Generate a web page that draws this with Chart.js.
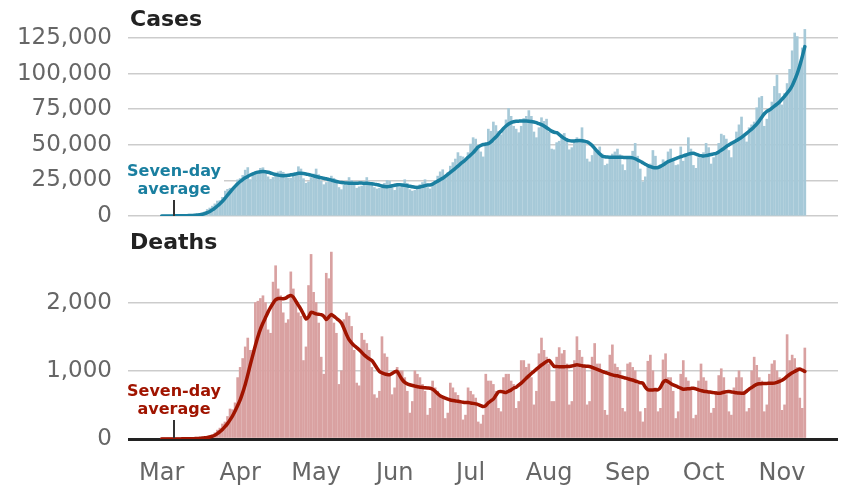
<!DOCTYPE html>
<html>
<head>
<meta charset="utf-8">
<script src="https://cdn.jsdelivr.net/npm/chart.js@4.4.0/dist/chart.umd.min.js"></script>
<style>
  body { margin: 0; background: #fff; width: 858px; height: 488px; overflow: hidden; position: relative; font-family: 'DejaVu Sans', sans-serif; }
  canvas { position: absolute; left: 0; }
  #casesChart { top: 0; }
  #deathsChart { top: 230px; }
  .title { position: absolute; left: 130px; font-weight: bold; font-size: 22px; line-height: 1; color: #222; }
  .avg-label { position: absolute; left: 124px; width: 100px; text-align: center; font-weight: bold; font-size: 16px; line-height: 17.6px; background: #fff; }
  .pointer { position: absolute; left: 172.5px; width: 2px; background: #333; }
</style>
</head>
<body>
<canvas id="casesChart" width="858" height="230"></canvas>
<canvas id="deathsChart" width="858" height="258"></canvas>
<div class="title" style="top:8px">Cases</div>
<div class="title" style="top:231px">Deaths</div>
<div class="avg-label" style="top:162px;color:#1a7fa0">Seven-day<br>average</div>
<div class="pointer" style="top:200px;height:16px"></div>
<div class="avg-label" style="top:382px;color:#a01400;background:transparent">Seven-day<br>average</div>
<div class="pointer" style="top:420px;height:18px"></div>
<script>
// Daily values from 1 March 2020 (one row = one week, Sunday first)
const monthLabels = ['Mar', 'Apr', 'May', 'Jun', 'Jul', 'Aug', 'Sep', 'Oct', 'Nov'];
const caseTicks = [0, 25, 50, 75, 100, 125];      // thousands
const deathTicks = [0, 1000, 2000];

// daily cases, thousands
const casesDaily = [
  0.01, 0.02, 0.02, 0.03, 0.05, 0.07, 0.09,
  0.15, 0.2, 0.3, 0.4, 0.5, 0.7, 0.8,
  0.8, 1.3, 1.7, 2.9, 4.6, 5.6, 6.9,
  8.5, 10.5, 10.8, 13.3, 17.5, 18.7, 19.5,
  19.2, 21.2, 25.4, 26.3, 28.5, 32.2, 34.0,
  25.6, 29.8, 31.0, 30.1, 33.5, 33.9, 29.8,
  27.5, 25.8, 27.1, 29.6, 31.0, 31.5, 30.7,
  27.0, 26.6, 26.5, 28.4, 29.6, 34.6, 33.0,
  26.2, 23.0, 24.0, 27.0, 29.5, 33.0, 29.0,
  24.5, 22.0, 23.5, 25.0, 28.0, 26.5, 25.0,
  20.0, 18.5, 21.5, 21.5, 27.0, 25.0, 23.5,
  19.5, 20.5, 21.0, 22.0, 27.0, 23.5, 21.5,
  20.0, 19.0, 19.5, 21.0, 23.0, 25.0, 24.5,
  20.5, 18.0, 21.0, 20.0, 21.5, 25.5, 23.0,
  18.5, 17.5, 18.0, 21.0, 22.0, 23.5, 25.5,
  20.0, 19.0, 22.5, 25.0, 28.0, 31.0, 32.5,
  27.5, 30.5, 35.0, 37.5, 40.0, 44.5, 42.0,
  41.5, 40.0, 44.5, 50.5, 55.0, 54.0, 47.5,
  45.0, 41.5, 50.5, 61.0, 59.5, 66.0, 63.5,
  59.5, 57.0, 62.0, 67.5, 75.5, 70.0, 63.0,
  61.0, 58.5, 63.0, 68.5, 70.0, 74.0, 70.0,
  59.0, 55.0, 62.0, 69.0, 66.5, 68.0, 59.0,
  47.0, 46.5, 51.5, 52.5, 57.0, 58.0, 54.5,
  46.5, 48.0, 52.5, 55.0, 53.0, 62.0, 52.5,
  40.0, 38.0, 42.5, 46.5, 44.5, 48.5, 43.5,
  35.5, 36.5, 40.0, 43.5, 45.0, 47.0, 43.0,
  36.0, 32.0, 41.5, 40.5, 45.5, 51.0, 42.0,
  33.0, 24.0, 27.5, 34.0, 36.5, 46.0, 42.0,
  34.5, 36.0, 39.5, 38.5, 45.0, 47.0, 40.5,
  35.5, 36.0, 48.5, 38.5, 44.0, 55.0, 47.0,
  35.5, 33.5, 41.0, 40.5, 44.5, 51.0, 48.0,
  36.5, 41.0, 42.5, 51.0, 57.5, 56.5, 54.0,
  46.0, 41.0, 52.5, 59.0, 64.0, 69.5, 56.0,
  52.0, 62.0, 64.0, 66.0, 76.0, 83.0, 84.0,
  63.0, 68.0, 75.0, 80.0, 91.0, 99.0, 86.0,
  78.0, 86.0, 93.0, 103.0, 116.0, 128.5, 126.0, 106.0, 118.0, 131.0
];

// seven-day average of cases, thousands
const casesAvg = [
  0, 0, 0, 0, 0, 0.1, 0.1,
  0.1, 0.1, 0.2, 0.2, 0.3, 0.4, 0.5,
  0.7, 0.9, 1.2, 1.7, 2.4, 3.2, 4.3,
  5.6, 7.0, 8.6, 10.4, 12.4, 14.6, 16.8,
  18.9, 20.8, 22.6, 24.2, 25.6, 26.8, 27.8,
  28.8, 29.6, 30.3, 30.8, 31.1, 31.2, 31.1,
  30.7, 30.2, 29.6, 29.1, 28.7, 28.4, 28.3,
  28.4, 28.6, 28.9, 29.2, 29.6, 30.0, 30.0,
  29.8, 29.5, 29.1, 28.7, 28.2, 27.7, 27.2,
  26.8, 26.5, 26.1, 25.7, 25.2, 24.7, 24.2,
  23.8, 23.5, 23.3, 23.1, 23.0, 23.0, 23.0,
  23.0, 23.1, 23.1, 23.0, 23.0, 22.9, 22.7,
  22.4, 22.0, 21.6, 21.1, 20.7, 20.6, 20.8,
  21.2, 21.6, 21.9, 22.0, 21.8, 21.5, 21.2,
  20.9, 20.5, 20.2, 20.1, 20.4, 20.8, 21.3,
  21.7, 21.8, 22.4, 23.5, 24.5, 25.5, 26.5,
  27.8, 29.2, 30.6, 32.0, 33.5, 35.0, 36.6,
  38.0, 39.5, 41.2, 42.8, 44.5, 46.5, 48.5,
  49.5, 50.2, 50.5, 50.8, 52.0, 53.8, 55.5,
  57.5, 59.5, 61.5, 63.2, 64.6, 65.6, 66.2,
  66.5, 66.6, 66.7, 66.7, 66.7, 66.6, 66.4,
  66.0, 65.5, 64.8, 64.2, 63.2, 62.0, 60.8,
  59.6, 58.8, 58.5, 57.2, 55.8, 54.5, 53.5,
  52.9, 52.6, 52.7, 52.9, 53.0, 52.9, 52.6,
  52.0, 51.0, 49.5, 47.5, 45.5, 43.6, 42.0,
  41.6, 41.4, 41.3, 41.2, 41.2, 41.3, 41.3,
  41.2, 41.1, 41.0, 41.0, 40.8, 40.2, 39.3,
  38.4, 37.4, 36.4, 35.4, 34.6, 34.1, 33.9,
  34.1, 34.8, 35.8, 37.0, 38.2, 38.9, 39.6,
  40.3, 41.0, 41.6, 42.2, 42.8, 43.4, 43.9,
  44.0, 43.5, 42.8, 42.3, 42.1, 42.4, 42.8,
  43.2, 43.6, 44.0, 45.0, 46.2, 47.4, 48.8,
  49.9, 51.0, 52.0, 53.0, 54.0, 55.2, 56.6,
  58.0, 59.5, 61.0, 62.7, 64.5, 66.8, 69.4,
  71.8, 73.5, 74.4, 75.8, 77.2, 78.5, 80.0,
  82.0, 84.0, 86.3, 88.5, 91.5, 95.5, 100.0, 105.5, 112.0, 118.9
];

// daily deaths
const deathsDaily = [
  1, 1, 4, 2, 1, 2, 3,
  4, 5, 6, 8, 9, 10, 12,
  10, 18, 23, 30, 38, 50, 55,
  90, 130, 160, 220, 250, 330, 440,
  430, 530, 900, 1050, 1180, 1350, 1480,
  1300, 1300, 2000, 2020, 2060, 2100, 2000,
  1600, 1550, 2300, 2540, 2200, 2100, 1850,
  1700, 1750, 2450, 2200, 2000, 1850, 1800,
  1150, 1350, 2250, 2706, 2150, 2000, 1700,
  1200, 950, 2430, 2350, 2740, 1700, 1550,
  800, 1000, 1750, 1850, 1800, 1650, 1300,
  820, 780, 1550, 1450, 1400, 1300, 1050,
  650, 600, 700, 1500, 1250, 1200, 950,
  650, 750, 1050, 1000, 1000, 900, 700,
  380, 550, 1000, 950, 900, 800, 700,
  350, 450, 850, 750, 700, 650, 600,
  300, 380, 820, 750, 680, 640, 520,
  280, 350, 750, 700, 650, 600, 250,
  220, 350, 950, 850, 850, 800, 700,
  450, 400, 900, 950, 950, 850, 800,
  450, 550, 1150, 1150, 1050, 1100, 900,
  500, 700, 1250, 1480, 1300, 1200, 1100,
  550, 550, 1200, 1340, 1250, 1300, 1100,
  500, 550, 1150, 1500, 1300, 1200, 1050,
  500, 550, 1200, 1400, 1100, 1100, 1000,
  420, 350, 1230, 1380, 1100, 1050, 1000,
  450, 400, 1100, 1120, 1050, 1000, 800,
  400, 250, 450, 1140, 1230, 1000, 750,
  400, 450, 1160, 1250, 900, 900, 700,
  300, 400, 950, 1150, 900, 850, 750,
  300, 350, 850, 1100, 900, 850, 700,
  380, 450, 700, 930, 1030, 900, 650,
  400, 350, 750, 900, 1000, 900, 700,
  400, 450, 1000, 1200, 1080, 900, 850,
  400, 500, 950, 1100, 1150, 1000, 900,
  420, 500, 1530, 1150, 1230, 1180, 1050, 600, 450, 1334
];

// seven-day average of deaths
const deathsAvg = [
  0, 0, 0, 0, 0, 0, 1,
  1, 2, 2, 3, 4, 5, 6,
  8, 10, 13, 17, 22, 30, 40,
  55, 78, 107, 140, 180, 225, 280,
  340, 410, 490, 573, 680, 800, 940,
  1090, 1230, 1370, 1500, 1610, 1700, 1780,
  1860, 1930, 1990, 2040, 2060, 2060, 2055,
  2065, 2090, 2103, 2080, 2020, 1960, 1900,
  1830, 1760, 1790, 1858, 1850, 1835, 1828,
  1824, 1800, 1750, 1790, 1824, 1800, 1770,
  1740, 1700, 1620, 1530, 1456, 1410, 1370,
  1340, 1309, 1270, 1230, 1200, 1175, 1150,
  1100, 1040, 990, 970, 955, 945, 941,
  960, 985, 990, 930, 870, 830, 809,
  795, 785, 775, 765, 760, 755, 750,
  747, 745, 730, 700, 665, 632, 615,
  600, 585, 572, 564, 558, 552, 546,
  540, 536, 534, 528, 522, 515, 505,
  490, 475, 490, 530, 560, 584, 640,
  690, 696, 688, 680, 700, 720, 745,
  760, 790, 820, 855, 892, 925, 960,
  990, 1025, 1055, 1085, 1110, 1137, 1152,
  1110, 1064, 1062, 1060, 1058, 1060, 1062,
  1064, 1070, 1080, 1088, 1082, 1075, 1070,
  1066, 1064, 1050, 1035, 1020, 1005, 990,
  978, 965, 952, 940, 930, 926, 915,
  905, 895, 885, 872, 865, 850, 838,
  825, 819, 760, 721, 720, 720, 721,
  721, 760, 830, 858, 840, 815, 794,
  778, 762, 745, 730, 732, 738, 742,
  745, 735, 720, 710, 700, 696, 690,
  685, 680, 675, 672, 675, 685, 692,
  696, 690, 684, 678, 674, 672, 672,
  700, 730, 755, 780, 800, 809, 812,
  814, 815, 816, 817, 819, 830, 843,
  860, 885, 917, 945, 970, 990, 1010, 1025, 1010, 990
];

// days since 1 March for each month label
const startDay = Date.UTC(2020, 2, 1);
const monthStarts = monthLabels.map((m, i) => (Date.UTC(2020, 2 + i, 1) - startDay) / 86400000);

const toPoints = arr => arr.map((v, i) => ({ x: i, y: v }));

Chart.defaults.font.family = "'DejaVu Sans', sans-serif";
Chart.defaults.color = '#666';

function buildChart(id, cfg) {
  return new Chart(document.getElementById(id), {
    type: 'bar',
    data: {
      datasets: [
        {
          type: 'line', data: toPoints(cfg.avg), borderColor: cfg.lineColor, borderWidth: 3.5,
          pointRadius: 0, tension: 0.2, borderCapStyle: 'round', borderJoinStyle: 'round', order: 0
        },
        {
          type: 'bar', data: toPoints(cfg.daily), backgroundColor: cfg.barColor,
          barThickness: 2, order: 1
        }
      ]
    },
    options: {
      responsive: false,
      animation: false,
      layout: { padding: cfg.padding },
      plugins: { legend: { display: false }, tooltip: { enabled: false } },
      scales: {
        x: {
          type: 'linear', min: -13.3, max: 267.1, offset: false,
          display: cfg.showX,
          grid: { display: false, drawTicks: false },
          border: { display: false },
          afterBuildTicks: s => { s.ticks = monthStarts.map(v => ({ value: v })); },
          afterFit: s => { if (cfg.showX) s.height = 49; },
          ticks: {
            autoSkip: false, maxRotation: 0, padding: 20, color: '#666',
            font: { size: 24 },
            callback: (v, i) => monthLabels[i]
          }
        },
        y: {
          min: 0, max: cfg.max, z: 1,
          afterBuildTicks: s => { s.ticks = cfg.ticks.map(v => ({ value: v })); },
          afterFit: s => { s.width = 128; s.paddingTop = 0; s.paddingBottom = 0; },
          border: { display: false },
          grid: {
            drawTicks: false,
            color: c => (cfg.blackZero && c.tick.value === 0) ? '#222' : 'rgba(0,0,0,0.2)',
            lineWidth: c => (cfg.blackZero && c.tick.value === 0) ? 3 : 1.5
          },
          ticks: {
            autoSkip: false, padding: 16, color: '#666', font: { size: 23 },
            callback: cfg.format
          }
        }
      }
    }
  });
}

buildChart('casesChart', {
  daily: casesDaily, avg: casesAvg, max: 132, ticks: caseTicks,
  barColor: '#a6c9d8', lineColor: '#1a7fa0',
  padding: { top: 28, right: 20, bottom: 14, left: 0 },
  showX: false, blackZero: false,
  format: v => (v * 1000).toLocaleString('en-US')
});

buildChart('deathsChart', {
  daily: deathsDaily, avg: deathsAvg, max: 2800, ticks: deathTicks,
  barColor: '#d9a1a1', lineColor: '#a01400',
  padding: { top: 18, right: 20, bottom: 0, left: 0 },
  showX: true, blackZero: true,
  format: v => v.toLocaleString('en-US')
});
</script>
</body>
</html>
